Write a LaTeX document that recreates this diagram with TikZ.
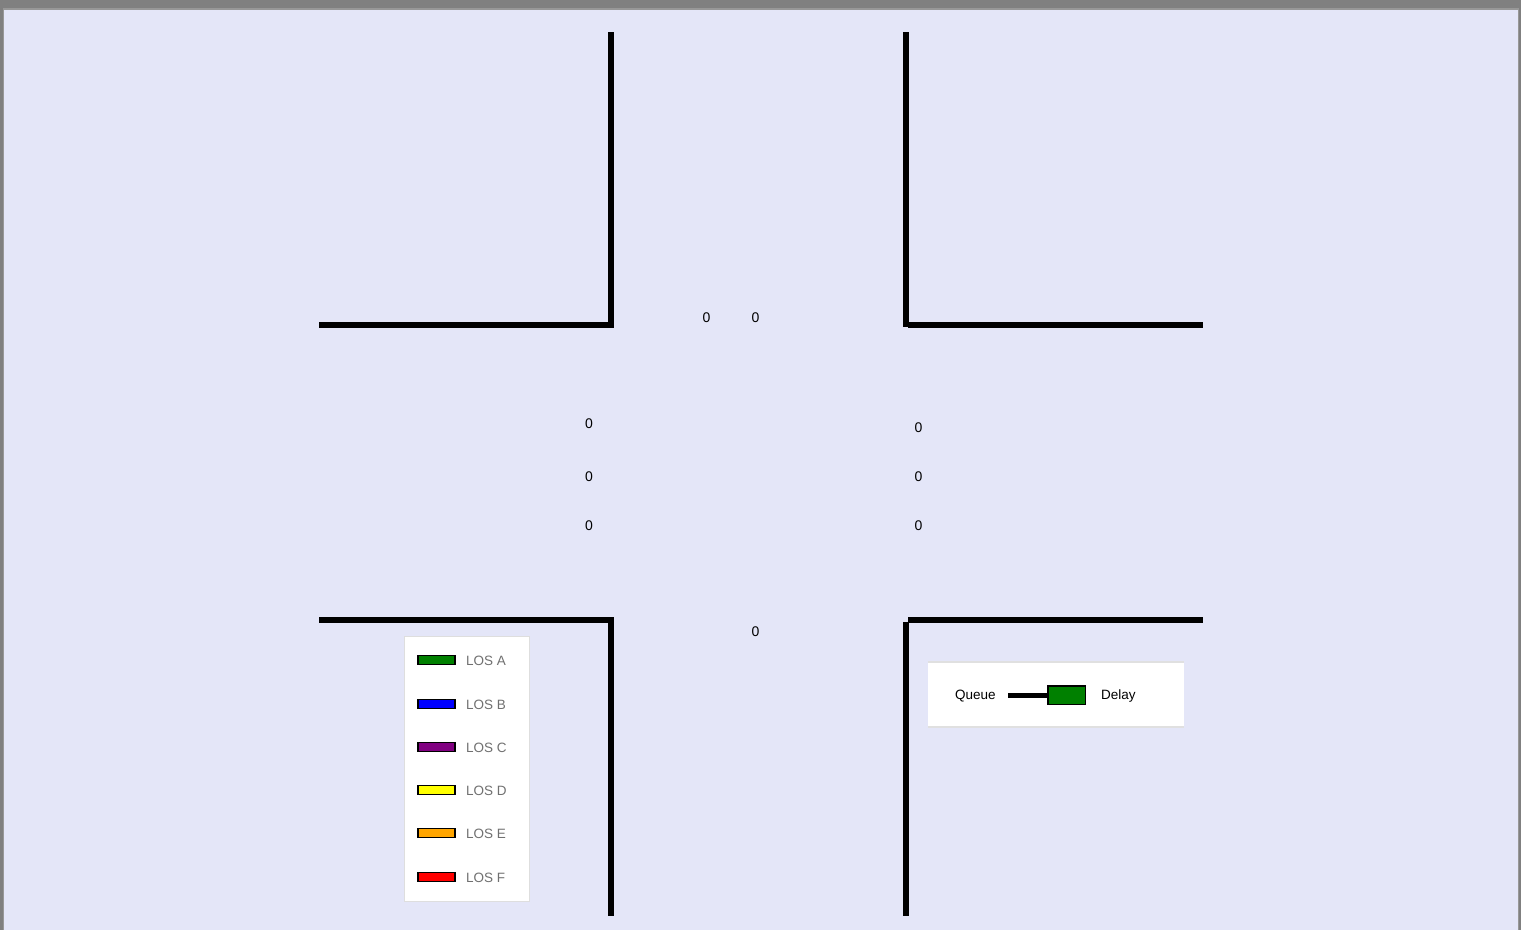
\documentclass[tikz,border=0pt]{standalone}
\usepackage{fontspec}
\setmainfont{Liberation Sans}
\definecolor{bg}{HTML}{E4E6F8}
\definecolor{frame}{HTML}{808080}
\definecolor{frame2}{HTML}{989898}
\definecolor{legtext}{HTML}{707070}
\definecolor{losA}{HTML}{008000}
\definecolor{losB}{HTML}{0000FF}
\definecolor{losC}{HTML}{800080}
\definecolor{losD}{HTML}{FFFF00}
\definecolor{losE}{HTML}{FFA500}
\definecolor{losF}{HTML}{FF0000}
\begin{document}
\begin{tikzpicture}[x=1pt,y=-1pt,
  wall/.style={line width=5.5pt,black},
  cnt/.style={font=\fontsize{14}{16}\selectfont,inner sep=0pt},
  legbox/.style={fill=white,draw=black!13,line width=1.2pt},
  swatch/.style={draw=black,line width=1.8pt},
  loslabel/.style={font=\fontsize{13.5}{15}\selectfont,text=legtext,anchor=west,inner sep=0pt},
  keylabel/.style={font=\fontsize{13.5}{15}\selectfont,anchor=base west,inner sep=0pt}]
\useasboundingbox (0,0) rectangle (1521,930);
% frame and background
\fill[frame] (0,0) rectangle (1521,930);
\fill[frame2] (3,8) rectangle (1519,930);
\fill[bg] (4,10) rectangle (1518,930);
% curbs
\draw[wall] (611,32) -- (611,327.5);
\draw[wall] (319,325) -- (613.75,325);
\draw[wall] (906,32) -- (906,327);
\draw[wall] (908,325) -- (1203,325);
\draw[wall] (319,620) -- (613.75,620);
\draw[wall] (611,617.5) -- (611,916);
\draw[wall] (908,620) -- (1203,620);
\draw[wall] (906,622) -- (906,916);
% counts
\node[cnt] (n1) at (706.5,318) {0};
\node[cnt] (n2) at (755.5,318) {0};
\node[cnt] (w1) at (589,424) {0};
\node[cnt] (w2) at (589,477) {0};
\node[cnt] (w3) at (589,526) {0};
\node[cnt] (e1) at (918.5,428) {0};
\node[cnt] (e2) at (918.5,477) {0};
\node[cnt] (e3) at (918.5,526) {0};
\node[cnt] (s1) at (755.5,632) {0};
% LOS legend
\draw[legbox] (404.5,636.5) rectangle (529.5,901.5);
\foreach \c/\l/\y in {losA/A/660,losB/B/704,losC/C/747,losD/D/790,losE/E/833,losF/F/877}{
  \draw[swatch,fill=\c] (418,\y-4.5) rectangle (455,\y+4.5);
  \node[loslabel] (los\l) at (466,\y+1) {LOS \l};
}
% Queue / Delay key
\fill[black!12] (928,661) rectangle (1184,728);
\fill[white] (928,663) rectangle (1184,726);
\node[keylabel] (queue) at (955,699.5) {Queue};
\draw[swatch,fill=losA] (1048,686) rectangle (1085.5,704.5);
\coordinate (qstart) at (1008,695.5);
\draw[line width=5pt] (qstart) -- (1047,695.5);
\node[keylabel] (delay) at (1101,699.5) {Delay};
\end{tikzpicture}
\end{document}
